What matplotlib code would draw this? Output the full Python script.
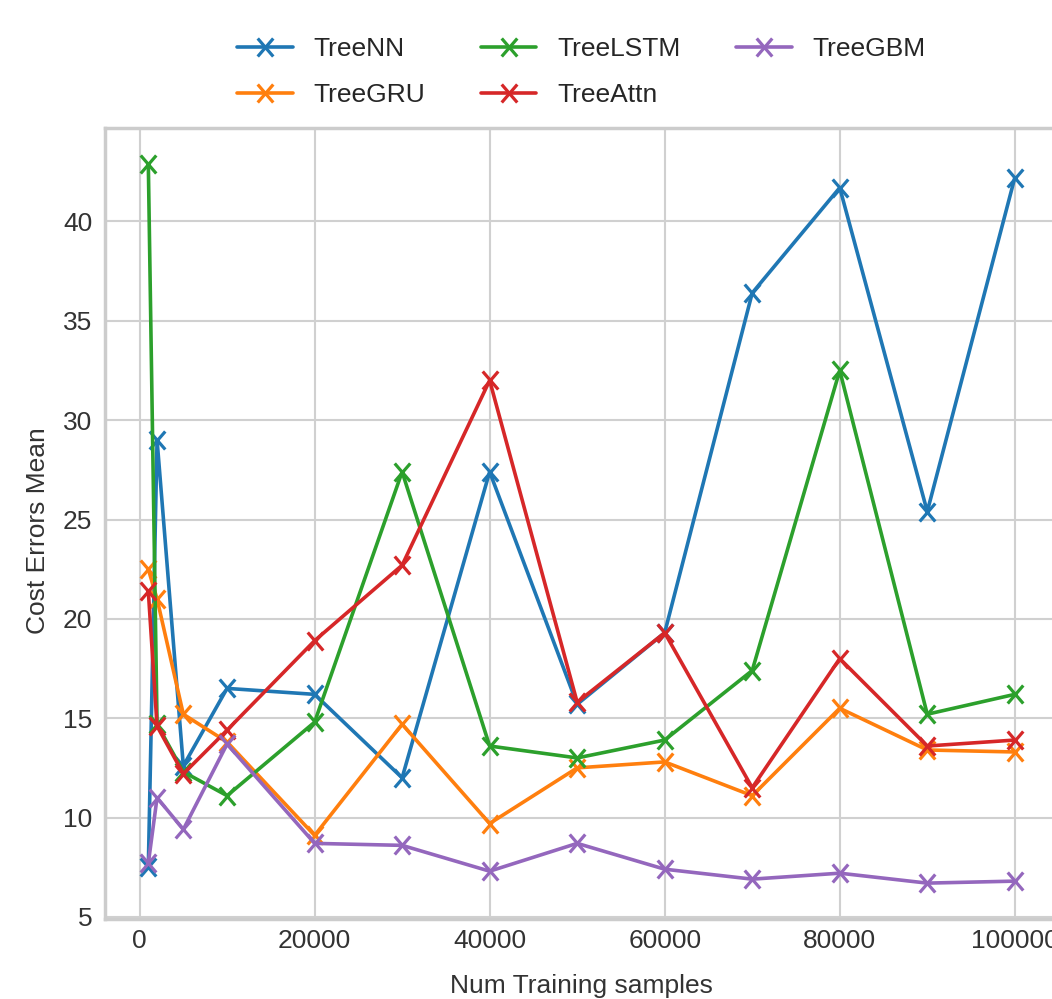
import matplotlib
matplotlib.use("Agg")
import matplotlib.pyplot as plt
from matplotlib.path import Path

plt.style.use("seaborn-v0_8-whitegrid")
plt.rcParams['font.family'] = ['Liberation Sans', 'DejaVu Sans']

samples = [1000, 2000, 5000, 10000, 20000, 30000, 40000, 50000, 60000, 70000, 80000, 90000, 100000]
tree_nn = [7.5, 29.0, 12.6, 16.5, 16.2, 12.0, 27.4, 15.7, 19.3, 36.4, 41.7, 25.4, 42.2]
tree_gru = [22.5, 21.0, 15.2, 13.8, 9.1, 14.7, 9.7, 12.5, 12.8, 11.1, 15.5, 13.4, 13.3]
tree_lstm = [42.9, 14.7, 12.3, 11.1, 14.8, 27.4, 13.6, 13.0, 13.9, 17.4, 32.5, 15.2, 16.2]
tree_attn = [21.4, 14.6, 12.2, 14.4, 18.9, 22.7, 32.0, 15.8, 19.3, 11.5, 18.0, 13.6, 13.9]
tree_gbm = [7.7, 11.0, 9.4, 13.7, 8.7, 8.6, 7.3, 8.7, 7.4, 6.9, 7.2, 6.7, 6.8]

series = [("TreeNN", tree_nn, "#1f77b4"),
          ("TreeGRU", tree_gru, "#ff7f0e"),
          ("TreeLSTM", tree_lstm, "#2ca02c"),
          ("TreeAttn", tree_attn, "#d62728"),
          ("TreeGBM", tree_gbm, "#9467bd")]

# slightly narrow "x" marker
narrow_x = Path([(-0.43, -0.5), (0.43, 0.5), (-0.43, 0.5), (0.43, -0.5)],
                [Path.MOVETO, Path.LINETO, Path.MOVETO, Path.LINETO])

FS = 19
fig = plt.figure(figsize=(10.52, 9.99), dpi=100)
ax = fig.add_axes([0.0998, 0.080, 0.906, 0.792])
for name, vals, col in series:
    ax.plot(samples, vals, marker=narrow_x, markersize=13, markeredgewidth=2.3,
            linewidth=2.6, color=col, label=name)

ax.set_xlabel("Num Training samples", fontsize=FS, color='#333333')
ax.set_ylabel("Cost Errors Mean", fontsize=FS, color='#333333')
ax.xaxis.set_label_coords(0.5, -0.0696)
ax.yaxis.set_label_coords(-0.058, 0.491)
ax.tick_params(labelsize=FS, colors='#333333')
ax.tick_params(axis='y', pad=9)
ax.tick_params(axis='x', pad=7)
ax.set_yticks([5, 10, 15, 20, 25, 30, 35, 40])
ax.set_xticks([0, 20000, 40000, 60000, 80000, 100000])
for s in ax.spines.values():
    s.set_color('#cccccc')
    s.set_linewidth(2.5)
ax.grid(True, color='#d0d0d0', linewidth=1.5)

ax.legend(loc='lower center', bbox_to_anchor=(0.5, 0.996), ncol=3,
          frameon=False, fontsize=FS, handlelength=2.1, columnspacing=2.1,
          handletextpad=0.8, labelspacing=0.85)

fig.savefig("out.png", dpi=100)
